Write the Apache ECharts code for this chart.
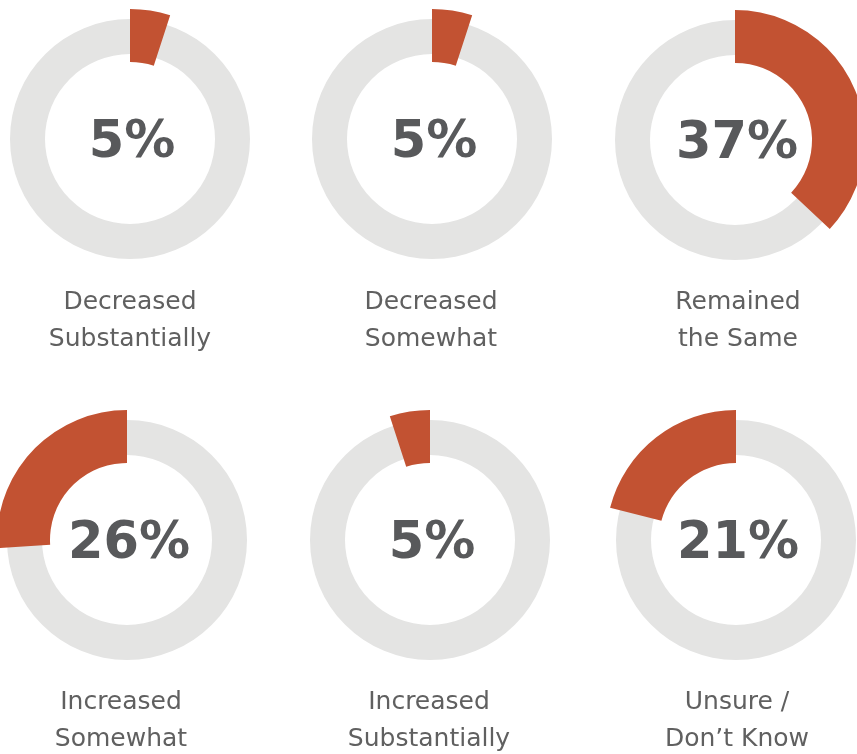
<!DOCTYPE html>
<html>
<head>
<meta charset="utf-8">
<script src="https://cdn.jsdelivr.net/npm/echarts@6/dist/echarts.min.js"></script>
<style>
  html, body { margin: 0; padding: 0; background: #ffffff; }
  #chart { width: 857px; height: 754px; }
</style>
</head>
<body>
<div id="chart"></div>
<script>
// Share of respondents for each answer (percent)
const categories = [
  'Decreased Substantially',
  'Decreased Somewhat',
  'Remained the Same',
  'Increased Somewhat',
  'Increased Substantially',
  'Unsure / Don\u2019t Know'
];
const labelLines = [
  ['Decreased', 'Substantially'],
  ['Decreased', 'Somewhat'],
  ['Remained', 'the Same'],
  ['Increased', 'Somewhat'],
  ['Increased', 'Substantially'],
  ['Unsure /', 'Don\u2019t Know']
];
const values = [5, 5, 37, 26, 5, 21];

// Layout: ring centres and caption centres for the 3 x 2 grid
const centers = [[130, 139], [432, 139], [735, 140], [127, 540], [430, 540], [736, 540]];
const captionX = [130, 431, 738, 121, 429, 737];

const ACCENT = '#c25232';
const TRACK = '#e4e4e3';
const TEXT = '#58595b';

const series = [];
const graphic = [];

values.forEach((v, i) => {
  const c = centers[i];
  // Light grey track ring
  series.push({
    type: 'pie',
    name: categories[i] + ' track',
    center: c,
    radius: [85, 120],
    silent: true,
    label: { show: false },
    labelLine: { show: false },
    emphasis: { disabled: true },
    itemStyle: { color: TRACK },
    data: [{ value: 100, name: 'track' }]
  });
  // Highlighted share, wider than the track; top row sweeps clockwise, bottom row counter-clockwise
  series.push({
    type: 'pie',
    name: categories[i],
    center: c,
    radius: [77, 130],
    startAngle: 90,
    clockwise: i < 3,
    silent: true,
    label: { show: false },
    labelLine: { show: false },
    emphasis: { disabled: true },
    data: [
      { value: v, name: categories[i], itemStyle: { color: ACCENT } },
      { value: 100 - v, name: 'rest', itemStyle: { color: 'rgba(0,0,0,0)' } }
    ]
  });

  // Percentage in the middle of the ring
  graphic.push({
    type: 'text',
    silent: true,
    style: {
      text: v + '%',
      x: c[0] + 2,
      y: c[1] + 5,
      align: 'center',
      verticalAlign: 'middle',
      font: 'bold 51px "DejaVu Sans", sans-serif',
      fill: TEXT
    }
  });

  // Two-line caption under the ring
  const midY = (i < 3 ? 302 : 702);
  labelLines[i].forEach((line, k) => {
    graphic.push({
      type: 'text',
      silent: true,
      style: {
        text: line,
        x: captionX[i],
        y: midY + k * 37,
        align: 'center',
        verticalAlign: 'middle',
        font: 'normal 25px "DejaVu Sans", sans-serif',
        fill: '#606060'
      }
    });
  });
});

const chart = echarts.init(document.getElementById('chart'), null, { renderer: 'canvas' });
chart.setOption({
  backgroundColor: '#ffffff',
  animation: false,
  series: series,
  graphic: graphic
});
</script>
</body>
</html>
